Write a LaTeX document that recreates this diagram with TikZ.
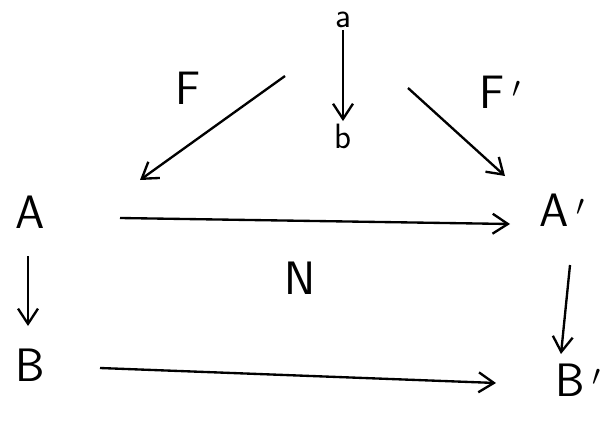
\documentclass[tikz,border=0pt]{standalone}
\usetikzlibrary{arrows.meta}

\begin{document}
\begin{tikzpicture}[
  x=0.03cm, y=-0.03cm,
  obj/.style={inner sep=2pt, font=\fontsize{40}{44}\selectfont\sffamily},
  small/.style={inner sep=2pt, font=\fontsize{30}{34}\selectfont\sffamily},
  lbl/.style={inner sep=0pt, font=\fontsize{40}{44}\selectfont\sffamily},
  arr/.style={-{Straight Barb[length=13pt, width=17pt]}, line width=2pt}
]
  \useasboundingbox (0,0) rectangle (601,420);

  % Objects
  \node[small] (a)  at (343,20)  {a};
  \node[small] (b)  at (343,136) {b};
  \node[obj]   (A)  at (30,212)  {A};
  \node[obj]   (A2) at (562,210) {A\,$'$};
  \node[obj]   (B)  at (30,365)  {B};
  \node[obj]   (B2) at (578,380) {B\,$'$};

  % Labels
  \node[lbl] (F)  at (188,88)  {F};
  \node[lbl] (F2) at (500,92)  {F\,$'$};
  \node[lbl] (N)  at (300,278) {N};

  % Free ends of the arrows
  \coordinate (fs) at (285,76);
  \coordinate (fe) at (140,180);
  \coordinate (gs) at (408,88);
  \coordinate (ge) at (505,176);
  \coordinate (hs) at (120,218);
  \coordinate (he) at (510,224);
  \coordinate (vs) at (28,256);
  \coordinate (ve) at (28,326);
  \coordinate (ws) at (570,265);
  \coordinate (we) at (561,354);
  \coordinate (ks) at (100,368);
  \coordinate (ke) at (496,383);

  % Arrows
  \draw[arr] (a) -- (b);
  \draw[arr] (fs) -- (fe);
  \draw[arr] (gs) -- (ge);
  \draw[arr] (hs) -- (he);
  \draw[arr] (vs) -- (ve);
  \draw[arr] (ws) -- (we);
  \draw[arr] (ks) -- (ke);
\end{tikzpicture}
\end{document}
